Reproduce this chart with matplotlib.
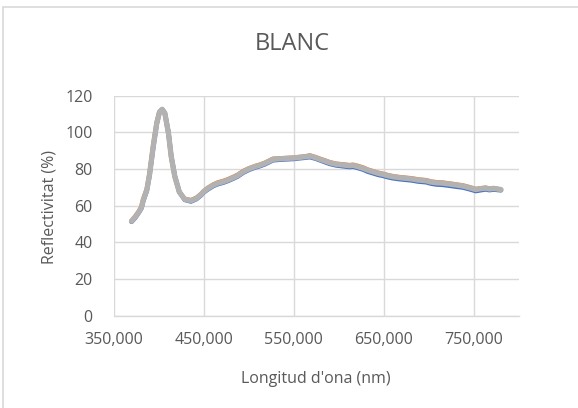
import matplotlib
matplotlib.use("Agg")
import matplotlib.pyplot as plt
from matplotlib.patches import Rectangle

# wavelength (nm) and the three reflectance curves (%)
wavelength = [370, 374, 378, 381, 383, 387, 390, 394, 398, 401,
              404, 407, 411, 414, 418, 423, 429, 436, 442, 447,
              450, 455, 461, 466, 472, 477, 483, 488, 494, 500,
              507, 512, 518, 523, 527, 535, 542, 550, 557, 563,
              568, 574, 579, 585, 590, 597, 605, 612, 616, 621,
              627, 632, 638, 644, 649, 655, 660, 667, 675, 681,
              688, 697, 702, 708, 715, 723, 730, 738, 745, 752,
              758, 763, 767, 772, 776, 780]

blue = [51.2, 53.3, 56.2, 58.6, 62.5, 68.2, 76.5, 91.4, 104.6, 110.8,
        112.5, 110.6, 100.0, 87.5, 76.4, 67.6, 63.2, 62.3, 63.6, 65.6,
        67.2, 69.0, 70.8, 71.8, 72.6, 73.5, 74.8, 76.0, 78.0, 79.5,
        80.8, 81.5, 82.6, 83.8, 84.8, 85.1, 85.3, 85.5, 85.9, 86.2,
        86.5, 85.7, 84.8, 83.7, 82.8, 82.0, 81.5, 81.1, 81.3, 80.6,
        79.7, 78.6, 77.7, 76.8, 76.3, 75.5, 75.0, 74.5, 74.1, 73.8,
        73.2, 72.8, 72.1, 71.6, 71.4, 70.9, 70.4, 69.9, 69.0, 68.0,
        68.5, 68.9, 68.5, 68.8, 68.6, 68.4]

orange = [51.8, 54.1, 56.8, 59.5, 63.6, 69.2, 77.7, 92.8, 105.6, 111.2,
          112.5, 110.1, 99.0, 86.5, 75.7, 67.5, 63.7, 63.0, 64.3, 66.3,
          67.9, 69.8, 71.6, 72.7, 73.5, 74.4, 75.7, 76.9, 78.9, 80.3,
          81.6, 82.3, 83.4, 84.6, 85.6, 85.8, 86.0, 86.2, 86.6, 86.9,
          87.4, 86.5, 85.6, 84.6, 83.7, 82.9, 82.5, 82.1, 82.3, 81.7,
          80.8, 79.7, 78.8, 77.9, 77.4, 76.6, 76.1, 75.6, 75.2, 74.9,
          74.3, 73.9, 73.2, 72.8, 72.6, 72.1, 71.6, 71.0, 70.1, 69.1,
          69.5, 69.8, 69.3, 69.6, 69.2, 68.7]

gray = [51.5, 53.7, 56.5, 59.0, 63.0, 68.6, 77.0, 92.0, 105.0, 111.0,
        112.6, 110.4, 99.5, 87.0, 76.0, 67.5, 63.5, 62.7, 64.0, 66.0,
        67.6, 69.5, 71.3, 72.3, 73.1, 74.0, 75.3, 76.5, 78.5, 80.0,
        81.3, 82.0, 83.1, 84.3, 85.3, 85.6, 85.8, 86.0, 86.4, 86.7,
        87.1, 86.2, 85.3, 84.3, 83.4, 82.6, 82.2, 81.8, 82.0, 81.3,
        80.4, 79.4, 78.5, 77.6, 77.1, 76.3, 75.8, 75.3, 74.9, 74.6,
        74.0, 73.6, 72.9, 72.5, 72.3, 71.8, 71.3, 70.7, 69.8, 68.8,
        69.3, 69.6, 69.1, 69.4, 69.1, 68.8]

x_ticks = [350, 450, 550, 650, 750]
x_tick_labels = ["350,000", "450,000", "550,000", "650,000", "750,000"]
y_ticks = [0, 20, 40, 60, 80, 100, 120]

plt.rcParams['font.family'] = ['Open Sans', 'DejaVu Sans']
TXT = '#595959'
GRID = '#D9D9D9'

W, H = 578, 408
fig = plt.figure(figsize=(W / 100, H / 100), dpi=100)

# chart frame (cropped on the right and bottom in the original)
fig.patches.append(Rectangle((3 / W, -0.2), 1.5, 1.2 - 6.5 / H,
                             transform=fig.transFigure, fill=False,
                             edgecolor=GRID, linewidth=1.2))

ax = fig.add_axes([113.5 / W, 1 - 315.7 / H, (519 - 113.5) / W, (315.7 - 95.7) / H])

ax.plot(wavelength, blue, color='#4472C4', lw=3.3, solid_capstyle='round', zorder=3)
ax.plot(wavelength, orange, color='#ED7D31', lw=3.3, solid_capstyle='round', zorder=4)
ax.plot(wavelength, gray, color='#B2B2B2', lw=3.8, solid_capstyle='round', zorder=5)

ax.set_xlim(350, 800)
ax.set_ylim(0, 120)
ax.set_xticks(x_ticks)
ax.set_xticklabels(x_tick_labels)
ax.set_yticks(y_ticks)
ax.tick_params(length=0, colors=TXT, labelsize=11.5)
ax.tick_params(axis='x', pad=12)
ax.tick_params(axis='y', pad=15)

ax.grid(True, color=GRID, linewidth=1.0)
ax.set_axisbelow(True)
for s in ['top', 'right', 'left']:
    ax.spines[s].set_visible(False)
ax.spines['bottom'].set_color(GRID)
ax.spines['bottom'].set_linewidth(1.0)

fig.text(292 / W, 1 - 43.7 / H, "BLANC", ha='center', va='center',
         fontsize=17, color=TXT)
fig.text(316 / W, 1 - 379 / H, "Longitud d'ona (nm)", ha='center', va='center',
         fontsize=11.5, color=TXT)
fig.text(49 / W, 1 - 206.5 / H, "Reflectivitat (%)", ha='center', va='center',
         rotation=90, fontsize=11.5, color=TXT)

fig.savefig("out.png", dpi=100)
